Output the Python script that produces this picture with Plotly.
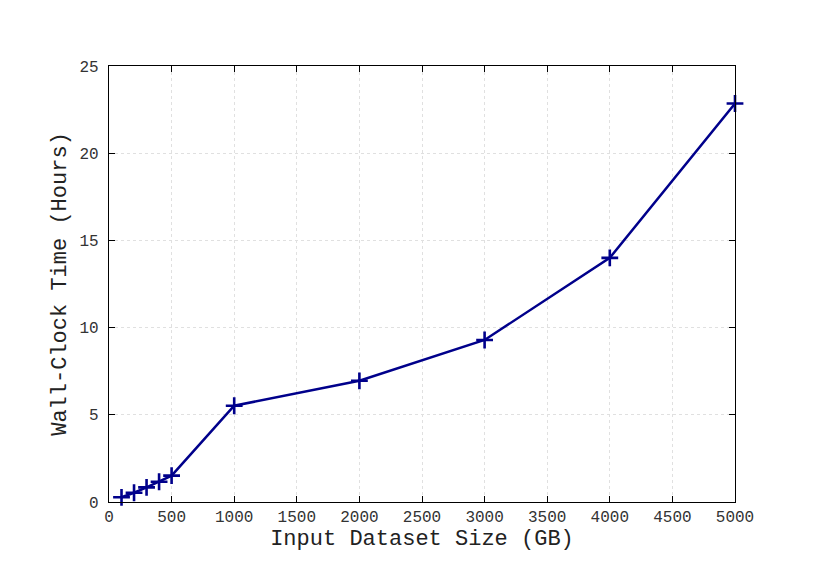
import plotly.graph_objects as go

sizes_gb = [100, 200, 300, 400, 500, 1000, 2000, 3000, 4000, 5000]
hours = [0.27, 0.53, 0.84, 1.16, 1.51, 5.52, 6.95, 9.29, 14.0, 22.85]
x_ticks = [0, 500, 1000, 1500, 2000, 2500, 3000, 3500, 4000, 4500, 5000]
y_ticks = [0, 5, 10, 15, 20, 25]

NAVY = "#00008B"
FONT = "Liberation Mono"

fig = go.Figure(go.Scatter(
    x=sizes_gb, y=hours, mode="lines+markers",
    line=dict(color=NAVY, width=2.5),
    marker=dict(symbol="cross-thin", size=12, line=dict(color=NAVY, width=2.6)),
    cliponaxis=False,
))

axis_common = dict(
    showline=True, linecolor="black", linewidth=1.2, mirror="ticks",
    ticks="inside", ticklen=6, tickcolor="black",
    showgrid=True, gridcolor="#e0e0e0", griddash="dot", gridwidth=1,
    zeroline=False, tickfont=dict(family=FONT, size=16, color="#333333"),
)
fig.update_xaxes(range=[0, 5000], tickvals=x_ticks,
                 title=dict(text="Input Dataset Size (GB)", font=dict(family=FONT, size=22, color="#222222"), standoff=2),
                 **axis_common)
fig.update_yaxes(range=[0, 25], tickvals=y_ticks, ticklabelstandoff=6,
                 title=dict(text="Wall-Clock Time (Hours)", font=dict(family=FONT, size=22, color="#222222"), standoff=6),
                 **axis_common)
fig.update_layout(
    width=830, height=587,
    margin=dict(l=101, r=103, t=58, b=93),
    paper_bgcolor="white", plot_bgcolor="white",
    showlegend=False,
)
fig.write_html("out.html")
